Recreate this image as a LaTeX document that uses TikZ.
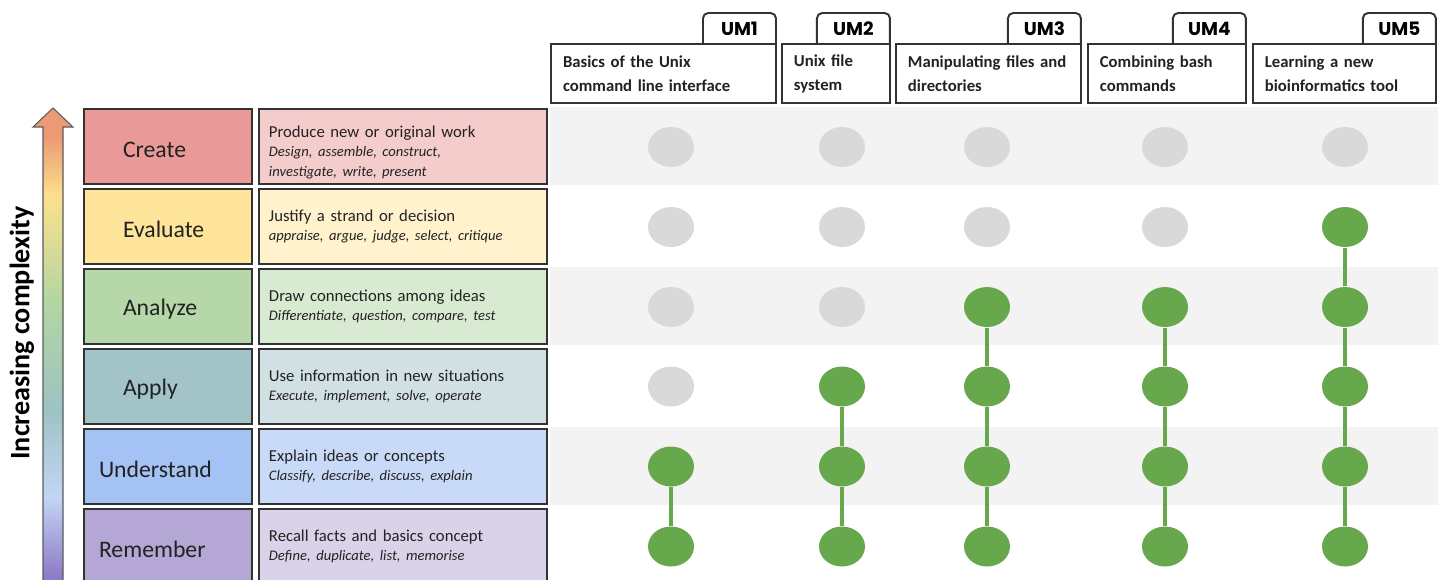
\documentclass[tikz,border=0pt]{standalone}
\usepackage{fontspec}
\setmainfont{Carlito}
\newfontfamily\umfont{Poppins}
\usepackage{xcolor}
\usetikzlibrary{shapes.geometric,positioning}
%%%%%%% colours
\definecolor{boxline}{HTML}{333333}
\definecolor{inktext}{HTML}{222222}
\definecolor{bandgrey}{HTML}{F3F3F3}
\definecolor{dotgrey}{HTML}{D9D9D9}
\definecolor{dotgreen}{HTML}{68A84C}
\definecolor{createdark}{HTML}{EA9999}
\definecolor{createlight}{HTML}{F4CCCC}
\definecolor{evaldark}{HTML}{FFE599}
\definecolor{evallight}{HTML}{FFF2CC}
\definecolor{analyzedark}{HTML}{B6D7A8}
\definecolor{analyzelight}{HTML}{D9EAD3}
\definecolor{applydark}{HTML}{A2C4C9}
\definecolor{applylight}{HTML}{D0E0E3}
\definecolor{understanddark}{HTML}{A4C2F4}
\definecolor{understandlight}{HTML}{C9DAF8}
\definecolor{rememberdark}{HTML}{B4A7D6}
\definecolor{rememberlight}{HTML}{D9D2E9}
\definecolor{cplxorange}{HTML}{EC9A74}
\definecolor{cplxyellow}{HTML}{FCE08C}
\definecolor{cplxgreen}{HTML}{B2D6A2}
\definecolor{cplxteal}{HTML}{9DC3C4}
\definecolor{cplxblue}{HTML}{C3D5F4}
\definecolor{cplxpurple}{HTML}{8E7CC8}
%% colour ramp for the complexity arrow (path box runs 25bp..75bp)
\pgfdeclareverticalshading{complexity}{100bp}{
  color(0bp)=(cplxpurple); color(27bp)=(cplxpurple);
  color(35bp)=(cplxblue); color(44bp)=(cplxteal);
  color(55bp)=(cplxgreen); color(66bp)=(cplxyellow);
  color(72bp)=(cplxorange); color(100bp)=(cplxorange)}
\tikzset{
every picture/.style={line width=0.8pt},
%%%%%%%%%%  Node styles
levelbox/.style={draw=boxline, line width=1.1pt, outer sep=0,
                 minimum width=3.36cm, minimum height=1.5cm},
levelname/.style={inner sep=0, outer sep=0, text=inktext,
                  font=\fontsize{13.5}{15}\selectfont},
levelinfo/.style={draw=boxline, line width=1.1pt, outer sep=0,
                  minimum height=1.5cm, text width=5.36cm, inner xsep=0.2cm,
                  align=left, text=inktext, font=\fontsize{9.5}{11}\selectfont},
colbox/.style={draw=boxline, line width=1.1pt, fill=white, outer sep=0,
               minimum height=1.18cm, text width=#1, inner xsep=0.24cm,
               align=left, text=inktext,
               font=\bfseries\fontsize{9.5}{13.6}\selectfont},
umtab/.style={outer sep=0, inner sep=0, minimum width=1.46cm,
              minimum height=0.62cm, text=black,
              font=\umfont\bfseries\fontsize{10.5}{12}\selectfont},
tabline/.style={draw=boxline, line width=1.1pt, rounded corners=3pt},
%%%%%%% dots for the modules
todo/.style={ellipse, fill=dotgrey, minimum width=0.92cm, minimum height=0.8cm,
             inner sep=0},
done/.style={ellipse, fill=dotgreen, minimum width=0.92cm, minimum height=0.8cm,
             inner sep=0},
%% line between reached levels
reach/.style={draw=dotgreen, line width=2.2pt},
band/.style={fill=bandgrey}
}
\newcommand{\bloomverbs}[1]{{\itshape\fontsize{8.3}{11}\selectfont #1}}

\begin{document}
\begin{tikzpicture}[x=0.02cm,y=-0.02cm]
\useasboundingbox (0,0) rectangle (1442,579);
\clip (0,0) rectangle (1442,579);
%%%%%%%%%%%%%%%%%%%%%%%
%%row bands
\fill[band] (550,107) rectangle (1438,185);
\fill[band] (550,267) rectangle (1438,345);
\fill[band] (550,427) rectangle (1438,505);
%%%%%%%%%%%%%%%%%%%%%%%
%%complexity arrow
\shadedraw[shading=complexity, draw=boxline!80, line width=0.6pt]
  (43,595) -- (43,127) -- (33,127) -- (53,108) -- (73,127) -- (63,127)
  -- (63,595) -- cycle;
\node[rotate=90, text=black, font=\bfseries\fontsize{16}{18}\selectfont]
  (axislabel) at (22,333) {Increasing complexity};
%%%%%%%%%%%%%%%%%%%%%%%
%%levels
\node[levelbox, fill=createdark] (create) at (168,146.5) {};
\node[levelbox, fill=evaldark, below=0.1cm of create] (evaluate) {};
\node[levelbox, fill=analyzedark, below=0.1cm of evaluate] (analyze) {};
\node[levelbox, fill=applydark, below=0.1cm of analyze] (apply) {};
\node[levelbox, fill=understanddark, below=0.1cm of apply] (understand) {};
\node[levelbox, fill=rememberdark, below=0.1cm of understand] (remember) {};
%%level names
\node[levelname, anchor=west] (createname) at ([xshift=0.78cm,yshift=-0.06cm]create.west) {Create};
\node[levelname, anchor=west] (evaluatename) at ([xshift=0.78cm,yshift=-0.06cm]evaluate.west) {Evaluate};
\node[levelname, anchor=west] (analyzename) at ([xshift=0.78cm,yshift=-0.06cm]analyze.west) {Analyze};
\node[levelname, anchor=west] (applyname) at ([xshift=0.78cm,yshift=-0.06cm]apply.west) {Apply};
\node[levelname, anchor=west] (understandname) at ([xshift=0.3cm,yshift=-0.06cm]understand.west) {Understand};
\node[levelname, anchor=west] (remembername) at ([xshift=0.3cm,yshift=-0.06cm]remember.west) {Remember};
%%level descriptions
%strut on the first line pushes the three lines a bit lower
\node[levelinfo, fill=createlight, right=0.14cm of create] (createinfo)
  {\rule{0pt}{13pt}Produce new or original work\\
   \bloomverbs{Design, assemble, construct,}\\
   \bloomverbs{investigate, write, present}};
\node[levelinfo, fill=evallight, right=0.14cm of evaluate] (evaluateinfo)
  {Justify a strand or decision\\
   \bloomverbs{appraise, argue, judge, select, critique}};
\node[levelinfo, fill=analyzelight, right=0.14cm of analyze] (analyzeinfo)
  {Draw connections among ideas\\
   \bloomverbs{Differentiate, question, compare, test}};
\node[levelinfo, fill=applylight, right=0.14cm of apply] (applyinfo)
  {Use information in new situations\\
   \bloomverbs{Execute, implement, solve, operate}};
\node[levelinfo, fill=understandlight, right=0.14cm of understand] (understandinfo)
  {Explain ideas or concepts\\
   \bloomverbs{Classify, describe, discuss, explain}};
\node[levelinfo, fill=rememberlight, right=0.14cm of remember] (rememberinfo)
  {Recall facts and basics concept\\
   \bloomverbs{Define, duplicate, list, memorise}};
%%%%%%%%%%%%%%%%%%%%%%%
%%module headers
\node[colbox=4.02cm, anchor=north west] (col1) at (551,44)
  {Basics of the Unix\\command line interface};
\node[colbox=1.68cm, right=0.12cm of col1] (col2) {Unix file\\system};
\node[colbox=3.22cm, right=0.12cm of col2] (col3) {Manipulating files and\\directories};
\node[colbox=2.68cm, right=0.14cm of col3] (col4) {Combining bash\\commands};
\node[colbox=3.18cm, right=0.14cm of col4] (col5) {Learning a new\\bioinformatics tool};
%%tabs
\node[umtab, above left=0cm and 0cm of col1.north east] (um1) {UM1};
\node[umtab, above left=0cm and 0cm of col2.north east] (um2) {UM2};
\node[umtab, above left=0cm and 0cm of col3.north east] (um3) {UM3};
\node[umtab, above left=0cm and 0cm of col4.north east] (um4) {UM4};
\node[umtab, above left=0cm and 0cm of col5.north east] (um5) {UM5};
\draw[tabline] (um1.south west) -- (um1.north west) -- (um1.north east) -- (um1.south east);
\draw[tabline] (um2.south west) -- (um2.north west) -- (um2.north east) -- (um2.south east);
\draw[tabline] (um3.south west) -- (um3.north west) -- (um3.north east) -- (um3.south east);
\draw[tabline] (um4.south west) -- (um4.north west) -- (um4.north east) -- (um4.south east);
\draw[tabline] (um5.south west) -- (um5.north west) -- (um5.north east) -- (um5.south east);
%%%%%%%%%%%%%%%%%%%%%%%
%%UM1
\node[todo] (cr1) at (671,147) {};
\node[todo] (ev1) at (671,227) {};
\node[todo] (an1) at (671,307) {};
\node[todo] (ap1) at (671,386.5) {};
\node[done] (un1) at (671,466.5) {};
\node[done] (re1) at (671,546.5) {};
\draw[reach] (un1) -- (re1);
%%UM2
\node[todo] (cr2) at (842,147) {};
\node[todo] (ev2) at (842,227) {};
\node[todo] (an2) at (842,307) {};
\node[done] (ap2) at (842,386.5) {};
\node[done] (un2) at (842,466.5) {};
\node[done] (re2) at (842,546.5) {};
\draw[reach] (ap2) -- (un2) -- (re2);
%%UM3
\node[todo] (cr3) at (987,147) {};
\node[todo] (ev3) at (987,227) {};
\node[done] (an3) at (987,307) {};
\node[done] (ap3) at (987,386.5) {};
\node[done] (un3) at (987,466.5) {};
\node[done] (re3) at (987,546.5) {};
\draw[reach] (an3) -- (ap3) -- (un3) -- (re3);
%%UM4
\node[todo] (cr4) at (1165,147) {};
\node[todo] (ev4) at (1165,227) {};
\node[done] (an4) at (1165,307) {};
\node[done] (ap4) at (1165,386.5) {};
\node[done] (un4) at (1165,466.5) {};
\node[done] (re4) at (1165,546.5) {};
\draw[reach] (an4) -- (ap4) -- (un4) -- (re4);
%%UM5
\node[todo] (cr5) at (1345,147) {};
\node[done] (ev5) at (1345,227) {};
\node[done] (an5) at (1345,307) {};
\node[done] (ap5) at (1345,386.5) {};
\node[done] (un5) at (1345,466.5) {};
\node[done] (re5) at (1345,546.5) {};
\draw[reach] (ev5) -- (an5) -- (ap5) -- (un5) -- (re5);
\end{tikzpicture}
\end{document}
